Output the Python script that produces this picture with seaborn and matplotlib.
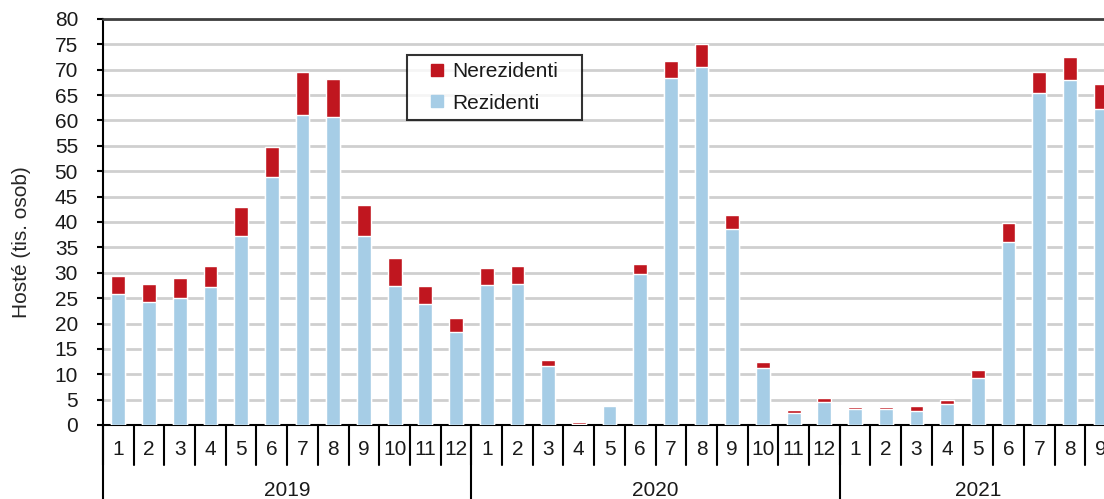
import numpy as np
import pandas as pd
import matplotlib
matplotlib.use('Agg')
import matplotlib.pyplot as plt
import seaborn as sns
from matplotlib.lines import Line2D

# Data (tis. osob)
roky = ['2019', '2020', '2021']
mesice_v_roce = [12, 12, 9]

rezidenti = [
    25.8, 24.2, 25.0, 27.1, 37.3, 48.8, 61.1, 60.7, 37.3, 27.4, 23.8, 18.3,
    27.5, 27.8, 11.6, 0.1, 3.7, 29.8, 68.3, 70.6, 38.6, 11.2, 2.4, 4.5,
    3.2, 3.2, 2.8, 4.1, 9.2, 36.1, 65.5, 67.9, 62.3,
]
nerezidenti = [
    3.6, 3.6, 4.0, 4.2, 5.6, 6.0, 8.4, 7.5, 6.0, 5.6, 3.6, 2.8,
    3.5, 3.6, 1.2, 0.4, 0.3, 2.0, 3.5, 4.4, 2.7, 1.2, 0.5, 0.8,
    0.4, 0.4, 0.9, 0.8, 1.6, 3.7, 4.0, 4.7, 4.8,
]

mesice = [m for n in mesice_v_roce for m in range(1, n + 1)]
df = pd.DataFrame({
    'poradi': range(len(mesice)),
    'mesic': mesice,
    'Rezidenti': rezidenti,
    'Nerezidenti': nerezidenti,
})
df['Celkem'] = df['Rezidenti'] + df['Nerezidenti']

sns.set_style('white')
plt.rcParams['font.family'] = ['Liberation Sans', 'DejaVu Sans']
plt.rcParams['text.color'] = '#1a1a1a'

cervena = '#C0161F'
modra = '#A6CDE6'
velikost = 15

fig = plt.figure(figsize=(11.04, 4.99), dpi=100)
# osa jde kousek za pravy okraj (original je oriznuty)
ax = fig.add_axes([103 / 1104, 74 / 499, 1013 / 1104, 406 / 499])

# skladane sloupce: celkem cervene, rezidenti modre pres ne
sns.barplot(data=df, x='poradi', y='Celkem', color=cervena,
            width=0.45, saturation=1, ax=ax, zorder=3)
sns.barplot(data=df, x='poradi', y='Rezidenti', color=modra,
            width=0.45, saturation=1, ax=ax, zorder=4)

ax.set_xlim(-0.5, len(df) - 0.5)
ax.set_ylim(0, 80)
ax.set_yticks(np.arange(0, 81, 5))
ax.yaxis.grid(True, color='#CFCFCF', linewidth=2, zorder=0)
ax.set_axisbelow(True)

for s in ['top', 'right']:
    ax.spines[s].set_visible(False)
for s in ['left', 'bottom']:
    ax.spines[s].set_color('black')
    ax.spines[s].set_linewidth(1.5)
ax.axhline(80, color='#404040', linewidth=2, zorder=5, clip_on=False)

ax.tick_params(axis='y', length=4, width=1.5, direction='out', left=True,
               labelsize=velikost, pad=14, colors='black',
               labelcolor='#1a1a1a')
ax.set_xticks(df['poradi'])
ax.set_xticklabels(df['mesic'])
ax.tick_params(axis='x', length=0, labelsize=velikost, pad=11,
               labelcolor='#1a1a1a')

ax.set_xlabel('')
ax.set_ylabel('Hosté (tis. osob)', fontsize=velikost)
ax.yaxis.set_label_coords((22 - 103) / 1013, (425 - 242) / 406)
ax.yaxis.label.set_va('center')

# oddelovace mesicu a roku pod osou
trans = ax.get_xaxis_transform()
for i in range(len(df) + 1):
    ax.plot([i - 0.5, i - 0.5], [0, -40 / 406], transform=trans,
            color='black', linewidth=1.5, clip_on=False)
hranice = np.cumsum([0] + mesice_v_roce)
for h in hranice:
    ax.plot([h - 0.5, h - 0.5], [0, -90 / 406], transform=trans,
            color='black', linewidth=1.5, clip_on=False)
for rok, a, b in zip(roky, hranice[:-1], hranice[1:]):
    ax.text((a + b - 1) / 2, -66 / 406, rok, transform=trans,
            ha='center', va='center', fontsize=velikost)

# legenda
handles = [
    Line2D([], [], linestyle='none', marker='s', markersize=8.5,
           markerfacecolor=cervena, markeredgecolor=cervena,
           label='Nerezidenti'),
    Line2D([], [], linestyle='none', marker='s', markersize=8.5,
           markerfacecolor=modra, markeredgecolor=modra,
           label='Rezidenti'),
]
leg = fig.legend(handles=handles, loc='upper left', mode='expand',
                 bbox_to_anchor=(407 / 1104, 1 - 116 / 499,
                                 175 / 1104, 61 / 499),
                 fontsize=velikost, frameon=True, fancybox=False,
                 handlelength=2.2, handletextpad=-0.4,
                 borderpad=0.35, labelspacing=0.6, borderaxespad=0)
leg.get_frame().set_edgecolor('black')
leg.get_frame().set_linewidth(1.5)

fig.savefig('out.png', dpi=100)
